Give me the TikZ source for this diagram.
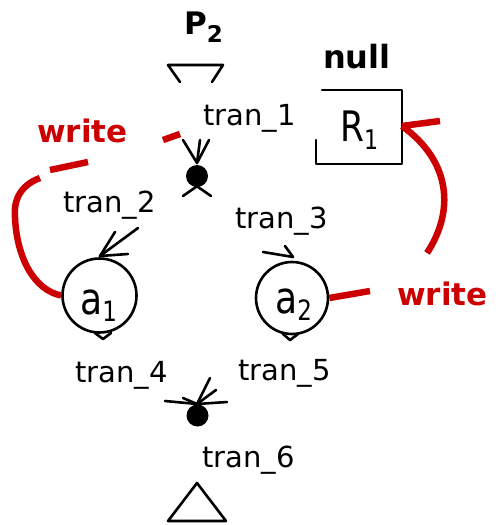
\documentclass[tikz,border=0pt]{standalone}
\usepackage{fontspec}
\setmainfont{DejaVu Sans}
\newfontfamily\narrowf[FakeStretch=0.82]{DejaVu Sans}
\definecolor{wred}{RGB}{204,0,0}
\begin{document}
\begin{tikzpicture}[x=1pt,y=-1pt,
  lbl/.style={anchor=base west,inner sep=0pt,font=\fontsize{29}{29}\selectfont},
  redlbl/.style={anchor=base west,inner sep=0pt,text=wred,font=\fontsize{31}{31}\selectfont\bfseries},
  blk/.style={line width=2.6pt,line cap=round,line join=round},
  redln/.style={wred,line width=6.5pt},
  place/.style={circle,draw,line width=2.6pt,minimum size=74pt,inner sep=0pt},
  tok/.style={circle,fill=black,minimum size=22pt,inner sep=0pt}]
\useasboundingbox (0,0) rectangle (498,525);

% top trapezoid
\draw[blk] (180,82) -- (168,65) -- (223,65) -- (212,82);
\node[anchor=base west,inner sep=0pt] (p2) at (184,34)
  {\fontsize{31}{31}\selectfont\bfseries P\raisebox{-8pt}{\fontsize{23}{23}\selectfont 2}};

% R1 box
\draw[blk] (322,90) -- (402,90) -- (402,164) -- (316,164) -- (316,140);
\node[anchor=base west,inner sep=0pt] (null) at (323,68)
  {\fontsize{32}{32}\selectfont\bfseries null};
\node[anchor=base west,inner sep=0pt] (r1) at (340,141)
  {\narrowf\fontsize{42}{42}\selectfont R\raisebox{-8pt}{\fontsize{27}{27}\selectfont 1}};

% labels
\node[lbl] (t1) at (203,125) {tran\_1};
\node[lbl] (t2) at (63,212) {tran\_2};
\node[lbl] (t3) at (235,228) {tran\_3};
\node[lbl] (t4) at (75,382) {tran\_4};
\node[lbl] (t5) at (238,380) {tran\_5};
\node[lbl] (t6) at (202,467) {tran\_6};

% top transition
\coordinate (tin) at (197,163);
\draw[blk] (200,140) -- (tin);
\draw[blk] (183,140) -- (tin) -- (209,140);
\draw[blk] (183,196) -- (206,180);
\draw[blk] (211,196) -- (188,180);
\node[tok] (d1) at (197,176) {};

% places
\node[place] (a1) at (99.5,295.5) {};
\node[anchor=base west,inner sep=0pt] (a1l) at (80,314)
  {\narrowf\fontsize{44}{44}\selectfont a\raisebox{-7pt}{\fontsize{28}{28}\selectfont 1}};
\node[place,minimum size=72pt] (a2) at (292,298) {};
\node[anchor=base west,inner sep=0pt] (a2l) at (275,313)
  {\narrowf\fontsize{44}{44}\selectfont a\raisebox{-7pt}{\fontsize{28}{28}\selectfont 2}};

% arrow tran_2 -> a1
\coordinate (a1in) at (100,256);
\draw[blk] (138,228) -- (a1in);
\draw[blk] (115,232) -- (a1in) -- (128,254);
% arrow tran_3 -> a2
\coordinate (a2in) at (293,257);
\draw[blk] (263,252) -- (a2in);
\draw[blk] (285,246) -- (a2in);

% tails under places
\draw[blk] (95,333) -- (103,339) -- (111,333);
\draw[blk] (283,334) -- (290,340) -- (298,334);

% bottom transition
\coordinate (bin) at (197,404);
\draw[blk] (165,401) -- (bin) -- (227,402);
\draw[blk] (183,398) -- (bin);
\draw[blk] (210,378) -- (bin);
\draw[blk] (216,390) -- (bin);
\node[tok] (d2) at (197.5,415.5) {};

% bottom triangle
\draw[blk] (197,483) -- (168,521) -- (226,521) -- cycle;

% red write arcs
\node[redlbl] (w1) at (37,142) {write};
\node[redlbl] (w2) at (397,305) {write};
\draw[redln] (a1.west) .. controls (34,290) and (17,258) .. (15,218)
  .. controls (13,196) and (24,184) .. (40,178);
\draw[redln] (50,170) -- (88,162);
\draw[redln] (163,140) -- (180,134);
\draw[redln] (a2.east) -- (370,291);
\coordinate (rin) at (402,126);
\draw[redln] (427,253) .. controls (454,212) and (452,162) .. (rin);
\draw[redln] (440,121) -- (rin);
\end{tikzpicture}
\end{document}
